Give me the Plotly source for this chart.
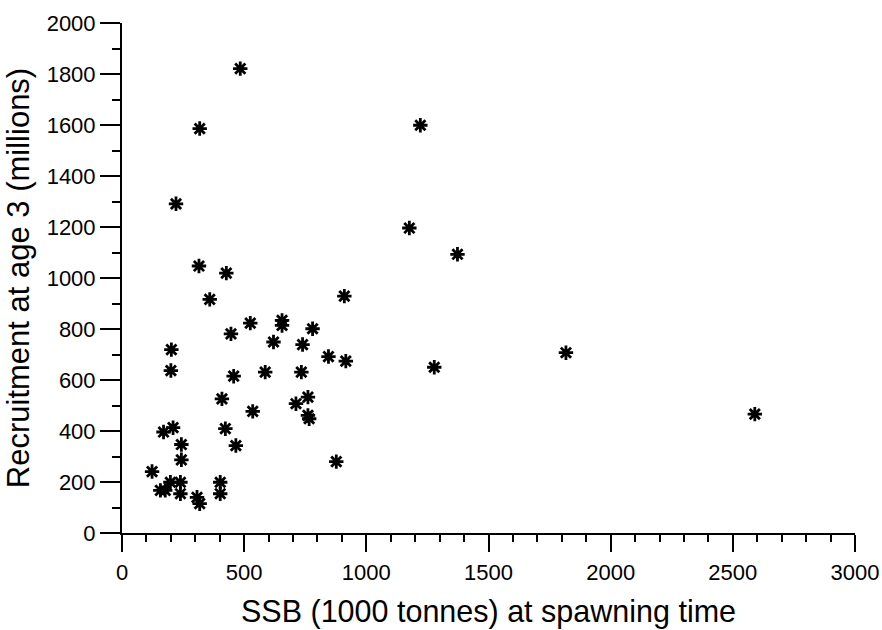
import plotly.graph_objects as go

# SSB (1000 tonnes) at spawning time
ssb = [484, 318, 221, 315, 427, 359, 910, 525, 655, 655,
       780, 446, 620, 739, 202, 845, 916, 200, 457, 586,
       734, 409, 761, 712, 535, 761, 766, 170, 209, 423,
       243, 466, 243, 877, 123, 198, 239, 157, 177, 239,
       307, 318, 402, 402, 1221, 1176, 1373, 1278, 1817, 2590]
# Recruitment at age 3 (millions)
recruits = [1821, 1586, 1291, 1047, 1019, 916, 929, 823, 834, 814,
            801, 781, 749, 739, 719, 692, 674, 637, 615, 631,
            631, 526, 533, 507, 477, 461, 448, 396, 413, 409,
            347, 343, 287, 280, 241, 199, 199, 167, 167, 154,
            140, 115, 199, 154, 1599, 1196, 1093, 650, 707, 466]

x_title = "SSB (1000 tonnes) at spawning time"
y_title = "Recruitment at age 3 (millions)"

FONT = "Liberation Sans, Arial, sans-serif"

fig = go.Figure()
fig.add_trace(go.Scatter(
    x=ssb, y=recruits, mode="markers",
    marker=dict(symbol="asterisk-open", size=12, color="black",
                line=dict(color="black", width=2.8)),
    showlegend=False, hoverinfo="x+y"))

fig.update_layout(
    width=882, height=630,
    margin=dict(l=122, r=27, t=23, b=97, autoexpand=False),
    paper_bgcolor="white", plot_bgcolor="white",
    font=dict(family=FONT, color="black"),
)
fig.update_xaxes(
    automargin=False,
    range=[0, 3000], tick0=0, dtick=500, showgrid=False, zeroline=False,
    showline=True, linecolor="black", linewidth=2,
    ticks="outside", ticklen=17, tickwidth=2, tickcolor="black",
    tickfont=dict(size=22, family=FONT), ticklabelstandoff=2,
    minor=dict(ticks="outside", dtick=100, ticklen=7, tickwidth=1.5, tickcolor="black", showgrid=False),
    title=dict(text=x_title, font=dict(size=30.5, family=FONT), standoff=16),
)
fig.update_yaxes(
    automargin=False,
    range=[0, 2000], tick0=0, dtick=200, showgrid=False, zeroline=False,
    showline=True, linecolor="black", linewidth=2,
    ticks="outside", ticklen=20, tickwidth=2, tickcolor="black",
    tickfont=dict(size=22, family=FONT), ticklabelstandoff=0,
    minor=dict(ticks="outside", dtick=100, ticklen=8, tickwidth=1.5, tickcolor="black", showgrid=False),
    title=dict(text=y_title, font=dict(size=31, family=FONT), standoff=8),
)

# remove the browser's default 8px page margin so the figure sits at (0, 0)
fig.write_html("out.html", config={"displayModeBar": False},
               post_script="document.body.style.margin='0px';")
